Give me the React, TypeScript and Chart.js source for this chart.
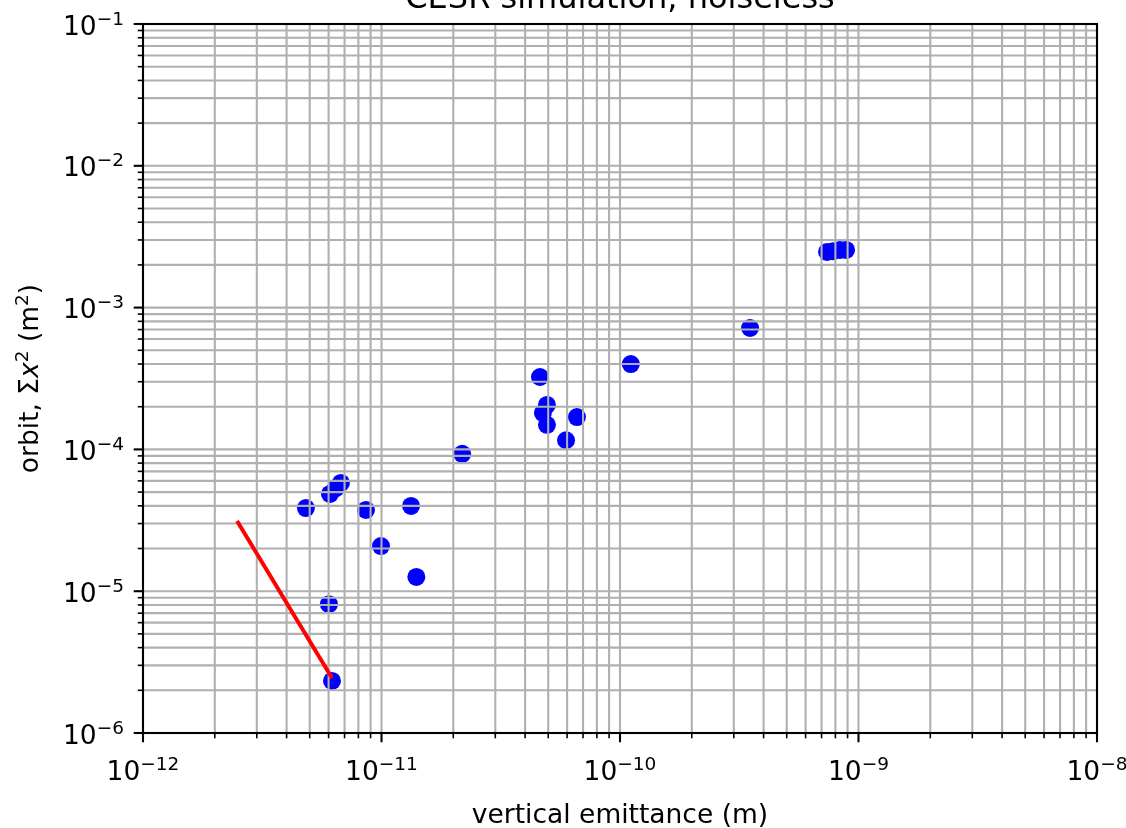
import React, { useEffect, useRef } from "react";
import { Chart, registerables } from "chart.js";

Chart.register(...registerables);

// ---- data ----
const emittance = [
  4.82e-12, 6.08e-12, 6.44e-12, 6.76e-12, 8.61e-12, 9.95e-12, 1.33e-11, 1.4e-11,
  6.02e-12, 6.2e-12, 2.18e-11, 4.62e-11, 4.94e-11, 4.75e-11, 4.94e-11, 6.6e-11,
  5.94e-11, 1.11e-10, 3.51e-10, 7.38e-10, 7.82e-10, 8.36e-10, 8.87e-10,
];
const orbit = [
  3.86e-5, 4.85e-5, 5.34e-5, 5.8e-5, 3.74e-5, 2.08e-5, 3.99e-5, 1.26e-5,
  8.1e-6, 2.33e-6, 9.3e-5, 3.24e-4, 2.06e-4, 1.81e-4, 1.49e-4, 1.69e-4,
  1.16e-4, 4.0e-4, 7.18e-4, 2.47e-3, 2.5e-3, 2.55e-3, 2.55e-3,
];
const fitEmittance = [2.48e-12, 6.2e-12];
const fitOrbit = [3.13e-5, 2.44e-6];

const xDecades = [-12, -11, -10, -9, -8];
const yDecades = [-6, -5, -4, -3, -2, -1];

const titleText = "CESR simulation, noiseless";
const xLabelText = "vertical emittance (m)";

// ---- style ----
const FONT = '"DejaVu Sans", sans-serif';
const BASE = 26.5;
const SUP = 18.5;

function minorValues(decades: number[]): number[] {
  const v: number[] = [];
  for (let i = 0; i < decades.length - 1; i++) {
    for (let m = 2; m <= 9; m++) v.push(m * Math.pow(10, decades[i]));
  }
  return v;
}

function drawPow(ctx: CanvasRenderingContext2D, e: number, x: number, y: number, align: string) {
  const base = "10";
  const exp = (e < 0 ? "\u2212" : "") + Math.abs(e);
  ctx.font = `${BASE}px ${FONT}`;
  const wb = ctx.measureText(base).width;
  ctx.font = `${SUP}px ${FONT}`;
  const we = ctx.measureText(exp).width;
  const total = wb + we;
  const x0 = align === "center" ? x - total / 2 : x - total;
  ctx.textAlign = "left";
  ctx.textBaseline = "alphabetic";
  ctx.font = `${BASE}px ${FONT}`;
  ctx.fillText(base, x0, y);
  ctx.font = `${SUP}px ${FONT}`;
  ctx.fillText(exp, x0 + wb, y - 10);
}

const overlayPlugin = {
  id: "mplOverlay",
  afterDatasetDraw(chart: any, args: any) {
    if (args.index !== 0) return;
    // grid drawn above the scatter markers, below the red line
    const { ctx, chartArea } = chart;
    const xs = chart.scales.x;
    const ys = chart.scales.y;
    ctx.save();
    ctx.strokeStyle = "#b0b0b0";
    ctx.lineWidth = 2.1;
    const xv = xDecades.map((d) => Math.pow(10, d)).concat(minorValues(xDecades));
    const yv = yDecades.map((d) => Math.pow(10, d)).concat(minorValues(yDecades));
    xv.forEach((v) => {
      const px = xs.getPixelForValue(v);
      ctx.beginPath();
      ctx.moveTo(px, chartArea.top);
      ctx.lineTo(px, chartArea.bottom);
      ctx.stroke();
    });
    yv.forEach((v) => {
      const py = ys.getPixelForValue(v);
      ctx.beginPath();
      ctx.moveTo(chartArea.left, py);
      ctx.lineTo(chartArea.right, py);
      ctx.stroke();
    });
    ctx.restore();
  },
  afterDraw(chart: any) {
    const { ctx, chartArea } = chart;
    const xs = chart.scales.x;
    const ys = chart.scales.y;
    const { left, right, top, bottom } = chartArea;
    ctx.save();
    ctx.fillStyle = "#000";
    ctx.strokeStyle = "#000";
    // spines
    ctx.lineWidth = 2.1;
    ctx.strokeRect(left, top, right - left, bottom - top);
    // major ticks
    ctx.lineWidth = 2.1;
    xDecades.forEach((d) => {
      const px = xs.getPixelForValue(Math.pow(10, d));
      ctx.beginPath();
      ctx.moveTo(px, bottom);
      ctx.lineTo(px, bottom + 9.3);
      ctx.stroke();
    });
    yDecades.forEach((d) => {
      const py = ys.getPixelForValue(Math.pow(10, d));
      ctx.beginPath();
      ctx.moveTo(left, py);
      ctx.lineTo(left - 9.3, py);
      ctx.stroke();
    });
    // minor ticks
    ctx.lineWidth = 1.6;
    minorValues(xDecades).forEach((v) => {
      const px = xs.getPixelForValue(v);
      ctx.beginPath();
      ctx.moveTo(px, bottom);
      ctx.lineTo(px, bottom + 5.3);
      ctx.stroke();
    });
    minorValues(yDecades).forEach((v) => {
      const py = ys.getPixelForValue(v);
      ctx.beginPath();
      ctx.moveTo(left, py);
      ctx.lineTo(left - 5.3, py);
      ctx.stroke();
    });
    // tick labels
    xDecades.forEach((d) => {
      const px = xs.getPixelForValue(Math.pow(10, d));
      drawPow(ctx, d, px, bottom + 47, "center");
    });
    yDecades.forEach((d) => {
      const py = ys.getPixelForValue(Math.pow(10, d));
      drawPow(ctx, d, left - 19, py + 10.5, "right");
    });
    // x label
    ctx.font = `${BASE}px ${FONT}`;
    ctx.textAlign = "center";
    ctx.textBaseline = "alphabetic";
    ctx.fillText(xLabelText, (left + right) / 2, 823);
    // title
    ctx.font = `32px ${FONT}`;
    ctx.fillText(titleText, (left + right) / 2, top - 16);
    // y label (rotated, with superscripts)
    const parts = [
      { t: "orbit, \u03a3", f: `${BASE}px ${FONT}`, dy: 0 },
      { t: "x", f: `oblique ${BASE}px ${FONT}`, dy: 0 },
      { t: "2", f: `${SUP}px ${FONT}`, dy: -10 },
      { t: " (m", f: `${BASE}px ${FONT}`, dy: 0 },
      { t: "2", f: `${SUP}px ${FONT}`, dy: -10 },
      { t: ")", f: `${BASE}px ${FONT}`, dy: 0 },
    ];
    let total = 0;
    const widths = parts.map((p) => {
      ctx.font = p.f;
      const w = ctx.measureText(p.t).width;
      total += w;
      return w;
    });
    ctx.translate(38, (top + bottom) / 2);
    ctx.rotate(-Math.PI / 2);
    ctx.textAlign = "left";
    let cx = -total / 2;
    parts.forEach((p, i) => {
      ctx.font = p.f;
      ctx.fillText(p.t, cx, p.dy);
      cx += widths[i];
    });
    ctx.restore();
  },
};

export default function App() {
  const canvasRef = useRef<HTMLCanvasElement | null>(null);

  useEffect(() => {
    const canvas = canvasRef.current;
    if (!canvas) return;
    const chart = new Chart(canvas, {
      type: "scatter",
      data: {
        datasets: [
          {
            label: "simulation",
            data: emittance.map((x, i) => ({ x, y: orbit[i] })),
            backgroundColor: "#0000ff",
            borderColor: "#0000ff",
            borderWidth: 0,
            pointRadius: 9,
            pointHoverRadius: 9,
            order: 2,
          },
          {
            label: "fit",
            data: fitEmittance.map((x, i) => ({ x, y: fitOrbit[i] })),
            showLine: true,
            borderColor: "#ff0000",
            backgroundColor: "#ff0000",
            borderWidth: 4,
            pointRadius: 0,
            pointHoverRadius: 0,
            order: 1,
          },
        ],
      },
      options: {
        responsive: false,
        animation: false,
        devicePixelRatio: 1,
        layout: { padding: { left: 0, right: 29, top: 24, bottom: 0 } },
        plugins: {
          legend: { display: false },
          tooltip: { enabled: false },
          title: { display: false },
        },
        scales: {
          x: {
            type: "logarithmic",
            min: 1e-12,
            max: 1e-8,
            ticks: { display: false },
            grid: { display: false },
            border: { display: false },
            afterFit: (s: any) => {
              s.height = 95;
            },
          },
          y: {
            type: "logarithmic",
            min: 1e-6,
            max: 1e-1,
            ticks: { display: false },
            grid: { display: false },
            border: { display: false },
            afterFit: (s: any) => {
              s.width = 143;
            },
          },
        },
      } as any,
      plugins: [overlayPlugin],
    });
    return () => chart.destroy();
  }, []);

  return (
    <div style={{ position: "fixed", left: 0, top: 0, width: 1126, height: 828, background: "#fff" }}>
      <canvas ref={canvasRef} width={1126} height={828} style={{ display: "block" }} />
    </div>
  );
}
